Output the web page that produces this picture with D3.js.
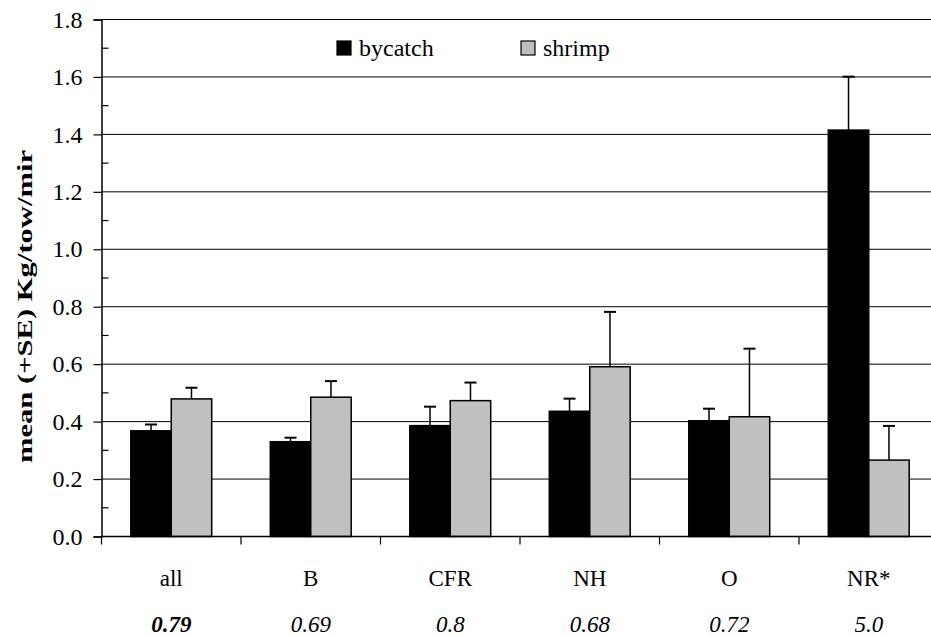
<!DOCTYPE html>
<html>
<head>
<meta charset="utf-8">
<script src="https://cdn.jsdelivr.net/npm/d3@7"></script>
<style>
  html, body { margin: 0; padding: 0; background: #fff; }
  svg text { font-family: "Liberation Serif", "Times New Roman", Times, serif !important; fill: #000; }
</style>
</head>
<body>
<div id="chart"></div>
<script>
// data
var categories = ['all', 'B', 'CFR', 'NH', 'O', 'NR*'];
var ratios = ['0.79', '0.69', '0.8', '0.68', '0.72', '5.0'];
var seriesNames = ['bycatch', 'shrimp'];
var seriesColors = ['#000000', '#c0c0c0'];
var bycatch = [0.368, 0.330, 0.386, 0.436, 0.403, 1.415];
var bycatchSE = [0.022, 0.014, 0.066, 0.044, 0.042, 0.186];
var shrimp = [0.479, 0.485, 0.473, 0.591, 0.417, 0.266];
var shrimpSE = [0.039, 0.056, 0.063, 0.191, 0.237, 0.119];
var yTicks = [0, 0.2, 0.4, 0.6, 0.8, 1.0, 1.2, 1.4, 1.6, 1.8];

addEventListener('load', function() {
  var width = 931, height = 637;
  var left = 101.5, right = 938.5, top = 19.5, bottom = 536.5;

  var svg = d3.select('#chart').append('svg')
    .attr('width', width)
    .attr('height', height)
    .style('display', 'block');

  var y = d3.scaleLinear().domain([0, 1.8]).range([bottom, top]);

  var x0 = d3.scaleBand()
    .domain(categories)
    .range([left, right])
    .paddingInner(0.42)
    .paddingOuter(0.21);

  var x1 = d3.scaleBand()
    .domain(seriesNames)
    .range([0, x0.bandwidth()]);

  // gridlines
  svg.append('g').selectAll('line')
    .data(yTicks.slice(1))
    .enter().append('line')
    .attr('x1', left).attr('x2', width)
    .attr('y1', function(d) { return y(d); })
    .attr('y2', function(d) { return y(d); })
    .attr('stroke', '#000').attr('stroke-width', 1);

  // bars
  var rows = categories.map(function(c, i) {
    return [
      { cat: c, s: 'bycatch', v: bycatch[i], se: bycatchSE[i], color: seriesColors[0] },
      { cat: c, s: 'shrimp', v: shrimp[i], se: shrimpSE[i], color: seriesColors[1] }
    ];
  });

  var groups = svg.append('g').selectAll('g')
    .data(rows)
    .enter().append('g')
    .attr('transform', function(d) { return 'translate(' + x0(d[0].cat) + ',0)'; });

  // error bars (upper only)
  groups.selectAll('line.err')
    .data(function(d) { return d; })
    .enter().append('line')
    .attr('class', 'err')
    .attr('x1', function(d) { return x1(d.s) + x1.bandwidth() / 2; })
    .attr('x2', function(d) { return x1(d.s) + x1.bandwidth() / 2; })
    .attr('y1', function(d) { return y(d.v); })
    .attr('y2', function(d) { return y(d.v + d.se); })
    .attr('stroke', '#000').attr('stroke-width', 1.5);

  groups.selectAll('line.cap')
    .data(function(d) { return d; })
    .enter().append('line')
    .attr('class', 'cap')
    .attr('x1', function(d) { return x1(d.s) + x1.bandwidth() / 2 - 6; })
    .attr('x2', function(d) { return x1(d.s) + x1.bandwidth() / 2 + 6; })
    .attr('y1', function(d) { return y(d.v + d.se); })
    .attr('y2', function(d) { return y(d.v + d.se); })
    .attr('stroke', '#000').attr('stroke-width', 2);

  groups.selectAll('rect')
    .data(function(d) { return d; })
    .enter().append('rect')
    .attr('x', function(d) { return x1(d.s); })
    .attr('y', function(d) { return y(d.v); })
    .attr('width', x1.bandwidth())
    .attr('height', function(d) { return bottom - y(d.v); })
    .attr('fill', function(d) { return d.color; })
    .attr('stroke', '#000').attr('stroke-width', 1.5);

  // y axis
  var yAxis = d3.axisLeft(y)
    .tickValues(yTicks)
    .tickFormat(d3.format('.1f'))
    .tickSize(8)
    .tickPadding(11);

  var ya = svg.append('g')
    .attr('transform', 'translate(' + left + ',0)')
    .call(yAxis);
  ya.select('.domain').attr('stroke-width', 1.5);
  ya.selectAll('.tick line').attr('stroke-width', 1.2);
  ya.selectAll('.tick text')
    .attr('font-size', 24);

  // minor ticks inside
  var minor = d3.range(0.1, 1.8, 0.2);
  svg.append('g').selectAll('line')
    .data(minor)
    .enter().append('line')
    .attr('x1', left).attr('x2', left + 7)
    .attr('y1', function(d) { return y(d); })
    .attr('y2', function(d) { return y(d); })
    .attr('stroke', '#000').attr('stroke-width', 1.2);

  // x axis
  svg.append('line')
    .attr('x1', left).attr('x2', width)
    .attr('y1', bottom).attr('y2', bottom)
    .attr('stroke', '#000').attr('stroke-width', 1.5);

  var step = x0.step();
  var bounds = d3.range(categories.length + 1).map(function(i) { return left + i * step; });
  svg.append('g').selectAll('line')
    .data(bounds)
    .enter().append('line')
    .attr('x1', function(d) { return d; })
    .attr('x2', function(d) { return d; })
    .attr('y1', bottom).attr('y2', bottom + 8)
    .attr('stroke', '#000').attr('stroke-width', 1.2);

  svg.append('g').selectAll('text')
    .data(categories)
    .enter().append('text')
    .attr('x', function(d) { return x0(d) + x0.bandwidth() / 2; })
    .attr('y', 586)
    .attr('text-anchor', 'middle')
    .attr('font-size', 23)
    .text(function(d) { return d; });

  svg.append('g').selectAll('text')
    .data(ratios)
    .enter().append('text')
    .attr('x', function(d, i) { return x0(categories[i]) + x0.bandwidth() / 2; })
    .attr('y', 632)
    .attr('text-anchor', 'middle')
    .attr('font-size', 23)
    .attr('font-style', 'italic')
    .attr('font-weight', function(d, i) { return i === 0 ? 'bold' : 'normal'; })
    .text(function(d) { return d; });

  // y title
  svg.append('text')
    .attr('transform', 'translate(32,306.5) rotate(-90)')
    .attr('text-anchor', 'middle')
    .attr('font-size', 22)
    .attr('font-weight', 'bold')
    .attr('textLength', 313)
    .attr('lengthAdjust', 'spacingAndGlyphs')
    .text('mean (+SE) Kg/tow/mir');

  // legend
  var legendX = [337, 521];
  var legend = svg.append('g').selectAll('g')
    .data(seriesNames)
    .enter().append('g')
    .attr('transform', function(d, i) { return 'translate(' + legendX[i] + ',41)'; });
  legend.append('rect')
    .attr('width', 14).attr('height', 14)
    .attr('fill', function(d, i) { return seriesColors[i]; })
    .attr('stroke', '#000').attr('stroke-width', 1.2);
  legend.append('text')
    .attr('x', 22).attr('y', 15)
    .attr('font-size', 24)
    .text(function(d) { return d; });
});
</script>
</body>
</html>
